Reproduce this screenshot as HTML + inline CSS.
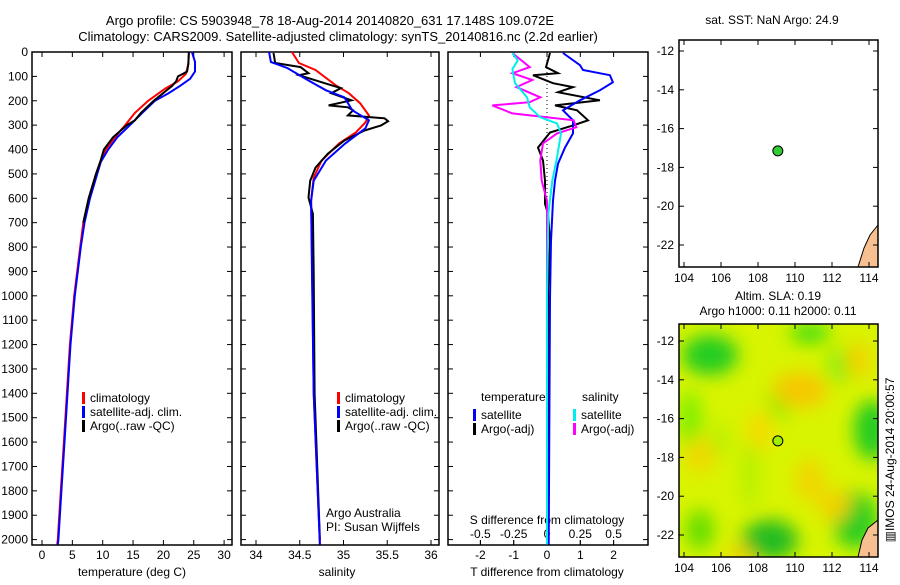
<!DOCTYPE html>
<html><head><meta charset="utf-8"><style>
body{margin:0;background:#fff;}
svg{font-family:"Liberation Sans",sans-serif;font-size:12px;}
</style></head><body>
<svg id="c" width="900" height="580" viewBox="0 0 900 580">
<defs>
<filter id="blur" x="-50%" y="-50%" width="200%" height="200%"><feGaussianBlur stdDeviation="9"/></filter>
<clipPath id="clipMap2"><rect x="679" y="324" width="199" height="233"/></clipPath>
<clipPath id="clipMap1"><rect x="679" y="40" width="199" height="227"/></clipPath>
</defs>
<text x="330" y="25" text-anchor="middle" font-size="13">Argo profile: CS 5903948_78 18-Aug-2014 20140820_631 17.148S 109.072E</text>
<text x="338" y="41" text-anchor="middle" font-size="13">Climatology: CARS2009. Satellite-adjusted climatology: synTS_20140816.nc (2.2d earlier)</text>
<g id="g"></g>
</svg>
<script>
// ---- data ----
const tDepthClim = [0,50,90,120,150,200,250,300,350,400,450,500,600,700,800,900,1000,1200,1400,1600,1800,2000,2020];
const tClim = [24.2,24.1,23.7,22.4,20.3,17.5,15.3,13.7,12.0,10.5,9.6,8.9,7.7,6.8,6.3,5.8,5.3,4.6,4.1,3.6,3.1,2.6,2.5];
const tDepthSat = [0,40,80,110,140,170,200,250,300,350,400,450,500,600,700,800,900,1000,1200,1400,1600,1800,2000,2020];
const tSat = [24.7,25.2,25.2,24.4,22.7,20.8,18.6,16.5,14.5,12.4,10.9,9.7,9.1,7.9,7.0,6.4,5.9,5.4,4.7,4.2,3.7,3.2,2.7,2.6];
const tDepthArgo = [0,50,80,90,100,120,140,160,200,250,280,300,350,400,450,500,600,700];
const tArgo = [24.2,24.1,23.9,23.2,22.4,22.1,21.4,20.4,18.4,16.3,15.3,14.0,11.7,10.2,9.6,8.9,7.7,6.8];

const sDepthClim = [0,45,74,136,169,210,260,289,330,375,445,515,610,829,1400,2020];
const sClim = [34.41,34.49,34.68,34.91,35.06,35.19,35.29,35.25,35.14,34.95,34.75,34.66,34.63,34.64,34.66,34.73];
const sDepthSat = [0,41,66,115,157,186,239,280,313,375,445,528,610,911,1400,2020];
const sSat = [34.15,34.17,34.36,34.59,34.80,35.01,35.10,35.29,35.25,35.02,34.80,34.66,34.63,34.64,34.66,34.73];
const sDepthArgo = [4,45,62,87,95,136,148,169,198,219,227,239,260,272,284,301,322,363,417,474,528,597,664,911,1400,2000];
const sArgo = [34.20,34.22,34.51,34.60,34.49,34.86,34.97,34.86,35.09,34.83,35.05,35.11,35.05,35.47,35.51,35.43,35.24,35.01,34.82,34.68,34.62,34.60,34.65,34.66,34.67,34.73];

const dDepthTsat = [4,54,74,95,124,157,198,239,280,334,392,458,528,610,775,1010,2020];
const dTsat = [0.48,0.99,1.08,1.89,1.98,1.59,0.99,0.48,0.78,0.78,0.54,0.33,0.24,0.18,0.12,0.09,0.05];
const dDepthTargo = [4,62,87,95,128,144,165,198,219,239,280,301,330,392,445,528,623,664,775,994,1500,2000];
const dTargo = [0.09,-0.03,0.33,-0.42,0.18,0.78,0.33,1.59,0.24,0.9,1.23,0.78,0.09,-0.27,-0.12,-0.06,-0.06,0.03,0.09,0.03,0.02,0.02];
const dDepthSsat = [4,35,70,128,186,227,268,293,334,433,528,664,1000,2020];
const dSsat = [-0.26,-0.22,-0.26,-0.24,-0.15,-0.13,-0.05,0.075,0.105,0.075,0.04,0.01,0.0,0.0];
const dDepthSargo = [4,62,87,115,144,186,206,219,252,280,309,334,375,445,528,610,700,2000];
const dSargo = [-0.26,-0.13,-0.26,-0.11,-0.23,-0.05,-0.13,-0.41,-0.26,0.2,0.22,0.075,-0.03,-0.05,-0.04,0.0,0.0,0.0];

const depthTicks = [0,100,200,300,400,500,600,700,800,900,1000,1100,1200,1300,1400,1500,1600,1700,1800,1900,2000];
const tempTicks = [0,5,10,15,20,25,30];
const salTicks = ["34","34.5","35","35.5","36"];
const dTTicks = [-2,-1,0,1,2];
const dSTicks = ["-0.5","-0.25","0","0.25","0.5"];
const lonTicks = [104,106,108,110,112,114];
const latTicks = [-12,-14,-16,-18,-20,-22];
const argoLon = 109.072, argoLat = -17.148;

// ---- scales ----
const yD = d => 52 + d*0.2438;
const xT = t => 42 + 6.07*t;
const xS = s => 256 + 87.5*(s-34);
const xDT = t => 547 + 33.3*t;
const xDS = s => 547 + 133.2*s;
const mX = lon => 684 + 18.5*(lon-104);
const mY1 = lat => 51 + 19.4*(-12-lat);
const mY2 = lat => 341 + 19.4*(-12-lat);

const NS='http://www.w3.org/2000/svg';
const g=document.getElementById('g');
function el(tag,attrs,parent){const e=document.createElementNS(NS,tag);for(const k in attrs)e.setAttribute(k,attrs[k]);(parent||g).appendChild(e);return e;}
function txt(x,y,s,anchor,parent){const e=el('text',{x:x,y:y,'text-anchor':anchor||'start'},parent);e.textContent=s;return e;}

function line(depths,vals,xf,color,name,w){
  const pts=depths.map((d,i)=>xf(vals[i]).toFixed(1)+','+yD(d).toFixed(1)).join(' ');
  const p=el('polyline',{points:pts,fill:'none',stroke:color,'stroke-width':w||2});
  
  
}
function frame(x,y,w,h,name){
  const r=el('rect',{x:x,y:y,width:w,height:h,fill:'none',stroke:'#000','stroke-width':1.5});
  
  
}

// panel 1
frame(32,52,200,493,'temperature-panel-frame');
depthTicks.forEach(d=>{el('line',{x1:32,x2:37,y1:yD(d),y2:yD(d),stroke:'#000'});el('line',{x1:227,x2:232,y1:yD(d),y2:yD(d),stroke:'#000'});
 const t=txt(28,yD(d)+4,String(d),'end');});
tempTicks.forEach(v=>{el('line',{x1:xT(v),x2:xT(v),y1:545,y2:540,stroke:'#000'});el('line',{x1:xT(v),x2:xT(v),y1:52,y2:57,stroke:'#000'});
 const t=txt(xT(v),559,String(v),'middle');});
txt(132,576,'temperature (deg C)','middle');
line(tDepthClim,tClim,xT,'#f00','temp-climatology-line');
line(tDepthSat,tSat,xT,'#00f','temp-satellite-line');
line(tDepthArgo,tArgo,xT,'#000','temp-argo-line');

// panel 2
frame(241,52,198,493,'salinity-panel-frame');
salTicks.forEach(v=>{const x=xS(+v);el('line',{x1:x,x2:x,y1:545,y2:540,stroke:'#000'});el('line',{x1:x,x2:x,y1:52,y2:57,stroke:'#000'});
 const t=txt(x,559,v,'middle');});
depthTicks.forEach(d=>{el('line',{x1:241,x2:246,y1:yD(d),y2:yD(d),stroke:'#000'});el('line',{x1:434,x2:439,y1:yD(d),y2:yD(d),stroke:'#000'});});
txt(337,576,'salinity','middle');
line(sDepthClim,sClim,xS,'#f00','sal-climatology-line');
line(sDepthArgo,sArgo,xS,'#000','sal-argo-line');
line(sDepthSat,sSat,xS,'#00f','sal-satellite-line');
txt(326,517,'Argo Australia');
txt(326,531,'PI: Susan Wijffels');

// legends 1 & 2
[[82,'p1'],[337,'p2']].forEach(([lx,p])=>{
  [['#f00','climatology'],['#00f','satellite-adj. clim.'],['#000','Argo(..raw -QC)']].forEach((it,i)=>{
    const y=398+i*14;
    el('rect',{x:lx,y:y-6,width:3,height:12,fill:it[0]});
    const t=txt(lx+8,y+4,it[1]);
  });
});

// panel 3
frame(448,52,200,493,'difference-panel-frame');
depthTicks.forEach(d=>{el('line',{x1:448,x2:453,y1:yD(d),y2:yD(d),stroke:'#000'});el('line',{x1:643,x2:648,y1:yD(d),y2:yD(d),stroke:'#000'});});
dTTicks.forEach(v=>{const x=xDT(v);el('line',{x1:x,x2:x,y1:545,y2:540,stroke:'#000'});el('line',{x1:x,x2:x,y1:52,y2:57,stroke:'#000'});
 const t=txt(x,559,String(v),'middle');});
dSTicks.forEach(v=>{const x=xDS(+v);el('line',{x1:x,x2:x,y1:545,y2:540,stroke:'#000'});
 const t=txt(x,538,v,'middle');});
txt(547,524,'S difference from climatology','middle');
txt(547,576,'T difference from climatology','middle');
el('line',{x1:xDT(0),x2:xDT(0),y1:52,y2:545,stroke:'#000','stroke-dasharray':'1,3'});
line(dDepthTargo,dTargo,xDT,'#000','dT-argo-line');
line(dDepthTsat,dTsat,xDT,'#00f','dT-satellite-line');
line(dDepthSargo,dSargo,xDS,'#f0f','dS-argo-line');
line(dDepthSsat,dSsat,xDS,'#0ee','dS-satellite-line');
txt(481,401,'temperature');
txt(582,401,'salinity');
[[473,'#00f','satellite',415],[473,'#000','Argo(-adj)',429],[573,'#0ee','satellite',415],[573,'#f0f','Argo(-adj)',429]].forEach(it=>{
  el('rect',{x:it[0],y:it[3]-6,width:3,height:12,fill:it[1]});
  const t=txt(it[0]+8,it[3]+4,it[2]);
});

// map 1
txt(772,24,'sat. SST: NaN Argo: 24.9','middle');
const m1=el('g',{'clip-path':'url(#clipMap1)'});
el('path',{d:'M878,225 L870,235 L864,248 L858,267 L878,267 Z',fill:'#f8c090',stroke:'#000'},m1);
frame(679,40,199,227,'sst-map-frame');
lonTicks.forEach(v=>{el('line',{x1:mX(v),x2:mX(v),y1:267,y2:262,stroke:'#000'});el('line',{x1:mX(v),x2:mX(v),y1:40,y2:45,stroke:'#000'});
 txt(mX(v),282,String(v),'middle');});
latTicks.forEach(v=>{el('line',{x1:679,x2:684,y1:mY1(v),y2:mY1(v),stroke:'#000'});el('line',{x1:873,x2:878,y1:mY1(v),y2:mY1(v),stroke:'#000'});
 txt(674,mY1(v)+4,String(v),'end');});
const p1=el('circle',{cx:mX(argoLon),cy:mY1(argoLat),r:5,fill:'#33cc33',stroke:'#000'});



// map 2
txt(778,300,'Altim. SLA: 0.19','middle');
txt(778,315,'Argo h1000: 0.11 h2000: 0.11','middle');
const m2=el('g',{'clip-path':'url(#clipMap2)'});

el('rect',{x:679,y:324,width:199,height:233,fill:'#d8f400'},m2);
const bl=el('g',{filter:'url(#blur)'},m2);
[[710,355,28,20,'#22cc22'],[690,420,12,30,'#80ee00'],[810,333,20,10,'#40dd10'],[780,400,12,20,'#90ee00'],
 [840,365,14,18,'#90ee10'],[872,430,18,30,'#22cc22'],[855,520,22,28,'#22cc22'],[770,540,28,20,'#22bb22'],
 [700,530,14,20,'#60dd00'],[750,470,8,40,'#b0f000'],[720,440,8,18,'#b0f000'],
 [800,390,28,18,'#f6c800'],[858,360,12,18,'#f4d000'],[760,430,14,20,'#f4dc00'],[700,455,16,18,'#f0d800'],
 [810,480,14,22,'#f2d400'],[835,505,16,16,'#f2d000'],[740,555,14,8,'#f4c800']].forEach(b=>el('ellipse',{cx:b[0],cy:b[1],rx:b[2],ry:b[3],fill:b[4]},bl));
el('path',{d:'M878,520 L868,528 L862,540 L858,557 L878,557 Z',fill:'#f8c090',stroke:'#000'},m2);
frame(679,324,199,233,'sla-map-frame');
lonTicks.forEach(v=>{el('line',{x1:mX(v),x2:mX(v),y1:557,y2:552,stroke:'#000'});el('line',{x1:mX(v),x2:mX(v),y1:324,y2:329,stroke:'#000'});
 txt(mX(v),572,String(v),'middle');});
latTicks.forEach(v=>{el('line',{x1:679,x2:684,y1:mY2(v),y2:mY2(v),stroke:'#000'});el('line',{x1:873,x2:878,y1:mY2(v),y2:mY2(v),stroke:'#000'});
 txt(674,mY2(v)+4,String(v),'end');});
const p2=el('circle',{cx:mX(argoLon),cy:mY2(argoLat),r:5,fill:'#a0ee00',stroke:'#000'});


const im=txt(0,0,'\u25A5IMOS 24-Aug-2014 20:00:57','middle');
im.setAttribute('transform','translate(894,460) rotate(-90)');


</script>
</body></html>
